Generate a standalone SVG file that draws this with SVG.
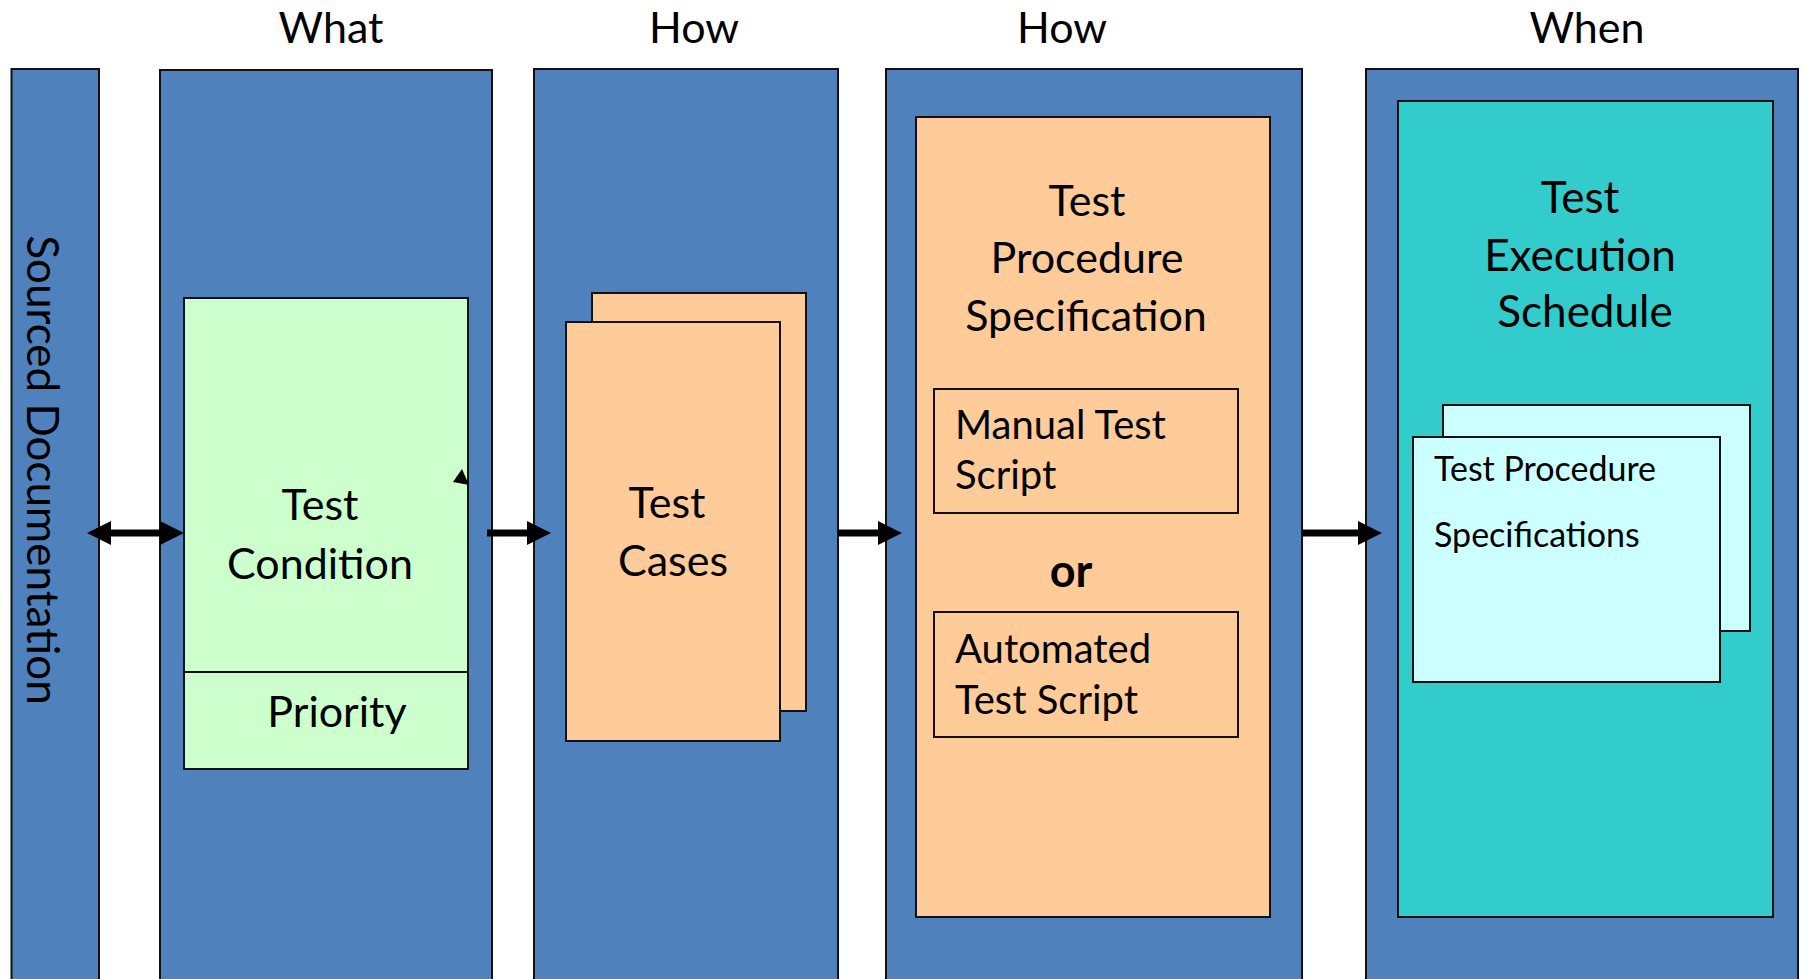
<svg xmlns="http://www.w3.org/2000/svg" width="1803" height="979" viewBox="0 0 1803 979">
  <defs>
    <style>
      .col { fill: #4F81BD; stroke: #111; stroke-width: 2; }
      .green { fill: #CCFFCC; stroke: #111; stroke-width: 2; }
      .peach { fill: #FFCC99; stroke: #111; stroke-width: 2; }
      .teal { fill: #33CCCC; stroke: #111; stroke-width: 2; }
      .cyan { fill: #CCFFFF; stroke: #111; stroke-width: 2; }
      text { font-family: Lato, "Liberation Sans", sans-serif; fill: #000; }
      .hdr { font-size: 43px; text-anchor: middle; }
      .big { font-size: 43px; text-anchor: middle; }
      .mid { font-size: 40px; }
      .small { font-size: 34px; }
      .conn { stroke: #000; stroke-width: 7; fill: none; }
    </style>
    <marker id="head" markerUnits="userSpaceOnUse" markerWidth="24" markerHeight="24" refX="0" refY="12" orient="auto-start-reverse">
      <path d="M0,0 L24,12 L0,24 Z" fill="#000"/>
    </marker>
  </defs>

  <rect width="1803" height="979" fill="#fff"/>

  <!-- column headings -->
  <g id="headings">
    <text class="hdr" x="331" y="43">What</text>
    <text class="hdr" x="694" y="43">How</text>
    <text class="hdr" x="1062" y="43">How</text>
    <text class="hdr" x="1587" y="43">When</text>
  </g>

  <!-- sourced documentation strip -->
  <g id="sourced-documentation">
    <rect class="col" x="11.5" y="69" width="87.5" height="920"/>
    <text transform="translate(27,470) rotate(90)" font-size="44" text-anchor="middle">Sourced Documentation</text>
  </g>

  <!-- what: test condition -->
  <g id="what-column">
    <rect class="col" x="160" y="70" width="332" height="920"/>
  </g>
  <g id="test-condition">
    <rect class="green" x="184" y="298" width="284" height="471"/>
    <line x1="184" y1="672" x2="468" y2="672" stroke="#111" stroke-width="2"/>
    <text class="big" x="320" y="520">Test</text>
    <text class="big" x="320" y="579">Condition</text>
    <text class="big" x="337" y="727">Priority</text>
    <polygon points="462,469 453,482 469,485" fill="#000"/>
  </g>

  <!-- how: test cases -->
  <g id="how-cases-column">
    <rect class="col" x="534" y="69" width="304" height="920"/>
  </g>
  <g id="test-cases">
    <rect class="peach" x="592" y="293" width="214" height="418"/>
    <rect class="peach" x="566" y="322" width="214" height="419"/>
    <text class="big" x="667" y="518">Test</text>
    <text class="big" x="673" y="576">Cases</text>
  </g>

  <!-- how: test procedure specification -->
  <g id="how-procedure-column">
    <rect class="col" x="886" y="69" width="416" height="920"/>
  </g>
  <g id="test-procedure-specification">
    <rect class="peach" x="916" y="117" width="354" height="800"/>
    <text class="big" x="1087" y="216">Test</text>
    <text class="big" x="1087" y="273">Procedure</text>
    <text class="big" x="1086" y="331">Specification</text>
  </g>
  <g id="manual-test-script">
    <rect class="peach" x="934" y="389" width="304" height="124"/>
    <text class="mid" x="955" y="439">Manual Test</text>
    <text class="mid" x="955" y="489">Script</text>
  </g>
  <g id="or-label">
    <text x="1071" y="587" font-size="45" font-weight="bold" text-anchor="middle">or</text>
  </g>
  <g id="automated-test-script">
    <rect class="peach" x="934" y="612" width="304" height="125"/>
    <text class="mid" x="955" y="663">Automated</text>
    <text class="mid" x="955" y="714">Test Script</text>
  </g>

  <!-- when: test execution schedule -->
  <g id="when-column">
    <rect class="col" x="1366" y="69" width="432" height="920"/>
  </g>
  <g id="test-execution-schedule">
    <rect class="teal" x="1398" y="101" width="375" height="816"/>
    <text class="big" x="1580" y="213" style="font-size:44px">Test</text>
    <text class="big" x="1580" y="271" style="font-size:44px">Execution</text>
    <text class="big" x="1585" y="327" style="font-size:44px">Schedule</text>
  </g>
  <g id="test-procedure-specifications">
    <rect class="cyan" x="1443" y="405" width="307" height="226"/>
    <rect class="cyan" x="1413" y="437" width="307" height="245"/>
    <text class="small" x="1434" y="481">Test Procedure</text>
    <text class="small" x="1434" y="547">Specifications</text>
  </g>

  <!-- connectors -->
  <g id="connectors">
    <path class="conn" d="M111,533 L160,533" marker-start="url(#head)" marker-end="url(#head)"/>
    <path class="conn" d="M487,533 L527,533" marker-end="url(#head)"/>
    <path class="conn" d="M838,533 L878,533" marker-end="url(#head)"/>
    <path class="conn" d="M1303,533 L1358,533" marker-end="url(#head)"/>
  </g>
</svg>
